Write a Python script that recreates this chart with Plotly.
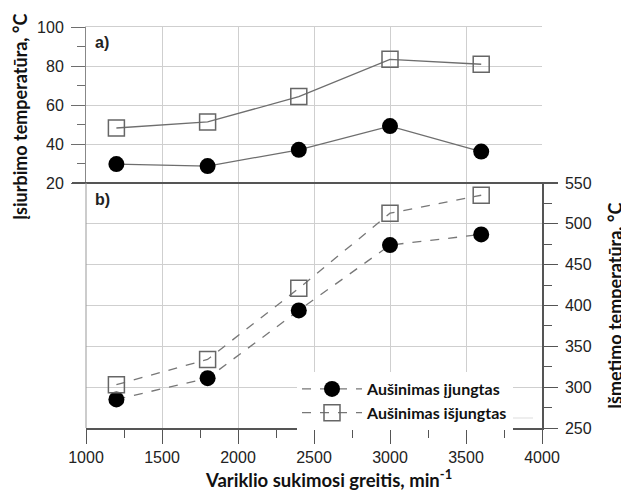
import plotly.graph_objects as go

rpm = [1200, 1800, 2400, 3000, 3600]
intake_on = [29.7, 28.7, 37.0, 49.2, 36.1]
intake_off = [48.2, 51.3, 64.3, 83.4, 80.9]
exhaust_on = [285, 311, 394, 474, 487]
exhaust_off = [303, 334, 421, 513, 535]

name_on = "Aušinimas įjungtas"
name_off = "Aušinimas išjungtas"

OFF = 8  # page body margin offset
W, H = 629 - OFF, 492 - OFF
# target pixel positions (in window coordinates)
X_L, X_R, Y_T, Y_B, Y_SPLIT = 86, 542, 27, 428, 183
ML, MT = X_L - OFF, Y_T - OFF
MR = W - (X_R - OFF)
MB = H - (Y_B - OFF)
PW = X_R - X_L
PH = Y_B - Y_T
split = (Y_B - Y_SPLIT) / PH

def px(xp):
    return (xp - X_L) / PW

def py(yp):
    return (Y_B - yp) / PH

fig = go.Figure()
line_col = "#6e6e6e"
fig.add_trace(go.Scatter(x=rpm, y=intake_on, mode="lines+markers", xaxis="x", yaxis="y",
                         line=dict(color=line_col, width=1.3),
                         marker=dict(symbol="circle", size=16, color="black"), showlegend=False))
fig.add_trace(go.Scatter(x=rpm, y=intake_off, mode="lines+markers", xaxis="x", yaxis="y",
                         line=dict(color=line_col, width=1.3),
                         marker=dict(symbol="square-open", size=16, color="#666", line=dict(width=1.5)),
                         showlegend=False))
fig.add_trace(go.Scatter(x=rpm, y=exhaust_on, mode="lines+markers", xaxis="x2", yaxis="y2", name=name_on,
                         line=dict(color="#777", width=1.3, dash="dash"),
                         marker=dict(symbol="circle", size=16, color="black")))
fig.add_trace(go.Scatter(x=rpm, y=exhaust_off, mode="lines+markers", xaxis="x2", yaxis="y2", name=name_off,
                         line=dict(color="#777", width=1.3, dash="dash"),
                         marker=dict(symbol="square-open", size=16, color="#666", line=dict(width=1.5))))

grid = "#cfcfcf"
axis_dark = "#555555"
tickfont = dict(family="Liberation Sans, Arial, sans-serif", size=16, color="#222")

fig.update_layout(
    width=W, height=H,
    margin=dict(l=ML, r=MR, t=MT, b=MB, autoexpand=False),
    paper_bgcolor="white", plot_bgcolor="white",
    xaxis=dict(domain=[0, 1], anchor="y", range=[1000, 4000], dtick=500, showticklabels=False,
               ticks="", showgrid=True, gridcolor=grid, showline=True, linecolor=grid, mirror=True,
               zeroline=False),
    yaxis=dict(domain=[split, 1], anchor="x", range=[20, 100], dtick=20, ticks="outside", ticklen=14,
               tickcolor=line_col, showgrid=True, gridcolor=grid, showline=True, linecolor="#888",
               tickfont=tickfont, zeroline=False, ticklabelstandoff=4,
               minor=dict(dtick=10, ticks="outside", ticklen=8, tickcolor=line_col, showgrid=False)),
    xaxis2=dict(domain=[0, 1], anchor="y2", range=[1000, 4000], dtick=500, ticks="outside", ticklen=14,
                tickcolor=axis_dark, showgrid=True, gridcolor=grid, showline=True, linecolor=axis_dark,
                linewidth=1.5, tickfont=tickfont, zeroline=False,
                minor=dict(dtick=250, ticks="outside", ticklen=8, tickcolor=axis_dark, showgrid=False)),
    yaxis2=dict(domain=[0, split], anchor="x2", side="right", range=[250, 550], dtick=50, ticks="outside",
                ticklen=14, tickcolor=axis_dark, showgrid=True, gridcolor=grid, showline=True,
                linecolor=axis_dark, linewidth=1.5, tickfont=tickfont, zeroline=False, ticklabelstandoff=4,
                minor=dict(dtick=25, ticks="outside", ticklen=8, tickcolor=axis_dark, showgrid=False)),
    legend=dict(x=px(297), y=py(372), xanchor="left", yanchor="top", bgcolor="white",
                font=dict(family="Lato, sans-serif", size=16, color="#111", weight="bold"),
                itemwidth=60, tracegroupgap=0),
    showlegend=True,
)

# separator between panels, left border of lower panel, legend underline
fig.add_shape(type="line", xref="paper", yref="paper", x0=px(72), x1=px(558), y0=split, y1=split,
              line=dict(color="#555", width=2))
fig.add_shape(type="line", xref="paper", yref="paper", x0=0, x1=0, y0=0, y1=split,
              line=dict(color="#999", width=1))
fig.add_shape(type="line", xref="paper", yref="paper", x0=px(375), x1=px(533), y0=py(418), y1=py(418),
              line=dict(color="#ddd", width=1))

title_font = dict(family="Lato, sans-serif", size=18, color="#111", weight="bold")
fig.add_annotation(text="Įsiurbimo temperatūra, °C", textangle=-90, xref="paper", yref="paper",
                   x=px(20), y=py(117), xanchor="center", yanchor="middle", showarrow=False, font=title_font)
fig.add_annotation(text="Išmetimo temperatūra, °C", textangle=-90, xref="paper", yref="paper",
                   x=px(615), y=py(306), xanchor="center", yanchor="middle", showarrow=False, font=title_font)
fig.add_annotation(text="Variklio sukimosi greitis, min<sup>-1</sup>", xref="paper", yref="paper",
                   x=px(328), y=py(478), xanchor="center", yanchor="middle", showarrow=False,
                   font=dict(family="Lato, sans-serif", size=18.5, color="#111", weight="bold"))

lab_font = dict(family="Liberation Sans, Arial, sans-serif", size=16, color="#222", weight="bold")
fig.add_annotation(text="a)", xref="paper", yref="paper", x=px(93), y=py(42), xanchor="left",
                   yanchor="middle", showarrow=False, font=lab_font)
fig.add_annotation(text="b)", xref="paper", yref="paper", x=px(93), y=py(199), xanchor="left",
                   yanchor="middle", showarrow=False, font=lab_font)

fig.write_html("out.html")
